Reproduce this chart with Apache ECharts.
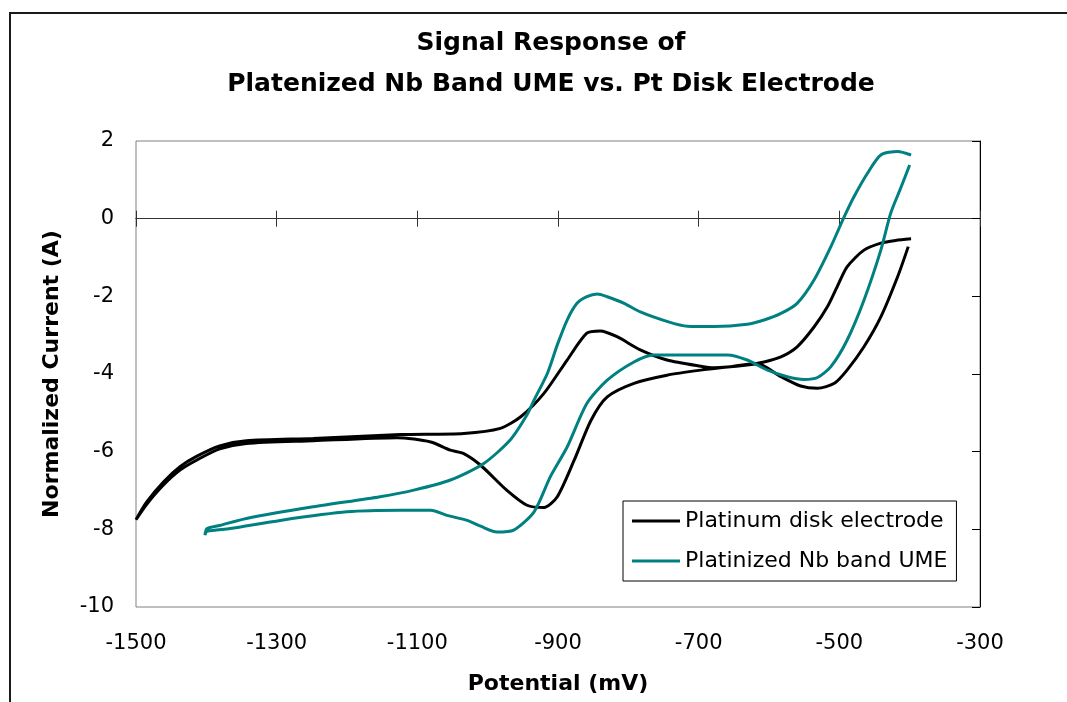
<!DOCTYPE html>
<html>
<head>
<meta charset="utf-8">
<title>Signal Response</title>
<script src="https://cdn.jsdelivr.net/npm/echarts@6/dist/echarts.min.js"></script>
<style>
  html, body { margin: 0; padding: 0; background: #fff; }
  #chart { width: 1067px; height: 702px; }
</style>
</head>
<body>
<div id="chart"></div>
<script>
// Platinum disk electrode, one full sweep (mV, normalized current)
const ptPotential = [
  -398, -420, -441, -465, -489, -503, -517, -536, -560, -583, -607, -631, -678, -697,
  -745, -783, -816, -840, -859, -887, -920, -953, -982, -1034, -1124, -1248, -1343,
  -1381, -1414, -1437, -1461, -1485, -1500,
  -1485, -1461, -1437, -1414, -1381, -1343, -1248, -1129, -1081, -1053, -1034, -1010,
  -973, -944, -920, -901, -877, -853, -830, -792, -745, -697, -650, -617, -583, -555,
  -531, -507, -489, -465, -441, -417, -402
];
const ptCurrent = [
  -0.52, -0.56, -0.63, -0.81, -1.24, -1.75, -2.27, -2.79, -3.30, -3.56, -3.69, -3.77, -3.84, -3.80,
  -3.64, -3.38, -3.04, -2.89, -2.95, -3.64, -4.50, -5.10, -5.40, -5.53, -5.56, -5.66, -5.72,
  -5.85, -6.12, -6.38, -6.78, -7.30, -7.75,
  -7.36, -6.86, -6.47, -6.22, -5.93, -5.79, -5.72, -5.64, -5.75, -5.96, -6.05, -6.35,
  -6.99, -7.38, -7.44, -7.16, -6.22, -5.19, -4.59, -4.24, -4.03, -3.90, -3.80, -3.73, -4.07, -4.31,
  -4.37, -4.24, -3.90, -3.30, -2.53, -1.49, -0.72
];

// Platinized Nb band UME
const nbPotential = [
  -398, -417, -441, -460, -479, -493, -512, -536, -560, -583, -607, -631, -678, -716,
  -744, -783, -806, -830, -844, -859, -873, -887, -901, -915, -934, -944, -968, -1006,
  -1053, -1105, -1153, -1248, -1343, -1381, -1399, -1402,
  -1399, -1366, -1295, -1200, -1124, -1081, -1058, -1029, -1010, -987, -963, -934,
  -911, -887, -859, -830, -792, -764, -697, -659, -631, -602, -574, -550, -531, -512,
  -489, -465, -441, -427, -412, -400
];
const nbCurrent = [
  1.64, 1.73, 1.64, 1.17, 0.57, 0.05, -0.72, -1.58, -2.18, -2.44, -2.61, -2.72, -2.78, -2.77,
  -2.65, -2.40, -2.18, -2.01, -1.94, -2.01, -2.18, -2.61, -3.25, -3.98, -4.67, -5.05, -5.70, -6.31,
  -6.73, -6.99, -7.16, -7.42, -7.72, -7.90, -7.98, -8.15,
  -8.05, -7.98, -7.77, -7.55, -7.51, -7.51, -7.64, -7.77, -7.92, -8.07, -8.02, -7.55,
  -6.65, -5.88, -4.76, -4.16, -3.69, -3.51, -3.51, -3.51, -3.64, -3.90, -4.07, -4.14, -4.09, -3.81,
  -3.13, -2.10, -0.81, 0.14, 0.82, 1.38
];

const xTicks = [-1500, -1300, -1100, -900, -700, -500, -300];
const seriesNames = ['Platinum disk electrode', 'Platinized Nb band UME'];

const FONT = 'DejaVu Sans';
const pair = (xs, ys) => xs.map((x, i) => [x, ys[i]]);

const chart = echarts.init(document.getElementById('chart'));

// two tick-only axes on the zero line so ticks cross it like in Excel
const tickAxis = (inside) => ({
  type: 'value',
  position: 'bottom',
  min: -1500,
  max: -300,
  axisLine: { show: true, onZero: true, lineStyle: { color: '#333', width: 1 } },
  axisTick: { show: true, inside: inside, length: 8, customValues: xTicks, lineStyle: { color: '#333' } },
  axisLabel: { show: false },
  splitLine: { show: false }
});

const option = {
  backgroundColor: '#fff',
  animation: false,
  title: {
    text: 'Signal Response of\nPlatenized Nb Band UME vs. Pt Disk Electrode',
    left: 546,
    top: 18,
    textAlign: 'center',
    textStyle: { fontFamily: FONT, fontSize: 25, fontWeight: 'bold', color: '#000', lineHeight: 41 }
  },
  graphic: [{
    type: 'rect',
    shape: { x: 10, y: 13, width: 1100, height: 760 },
    style: { fill: 'none', stroke: '#1a1a1a', lineWidth: 2 },
    silent: true
  }],
  grid: {
    left: 136, top: 141, width: 844, height: 466,
    show: true, borderColor: '#808080', borderWidth: 1, backgroundColor: '#fff'
  },
  legend: {
    data: seriesNames,
    orient: 'vertical',
    left: 623,
    top: 501,
    padding: [9, 9, 9, 9],
    itemGap: 18,
    itemWidth: 48,
    itemHeight: 3,
    icon: 'rect',
    borderColor: '#000',
    borderWidth: 1,
    backgroundColor: '#fff',
    textStyle: { fontFamily: FONT, fontSize: 22, color: '#000' }
  },
  xAxis: [
    {
      type: 'value',
      position: 'bottom',
      min: -1500,
      max: -300,
      name: 'Potential (mV)',
      nameLocation: 'middle',
      nameGap: 66,
      nameTextStyle: { fontFamily: FONT, fontSize: 22, fontWeight: 'bold', color: '#000' },
      axisLine: { show: false, onZero: false },
      axisTick: { show: false },
      axisLabel: {
        margin: 26, customValues: xTicks, fontFamily: FONT, fontSize: 21, color: '#000',
        formatter: (v) => String(v)
      },
      splitLine: { show: false }
    },
    tickAxis(false),
    tickAxis(true)
  ],
  yAxis: [
    {
      type: 'value',
      position: 'left',
      min: -10,
      max: 2,
      interval: 2,
      name: 'Normalized Current (A)',
      nameLocation: 'middle',
      nameGap: 73,
      nameTextStyle: { fontFamily: FONT, fontSize: 22, fontWeight: 'bold', color: '#000' },
      axisLine: { show: false, onZero: false },
      axisTick: { show: false },
      axisLabel: { margin: 22, fontFamily: FONT, fontSize: 21, color: '#000' },
      splitLine: { show: false }
    },
    {
      type: 'value',
      position: 'right',
      min: -10,
      max: 2,
      interval: 2,
      axisLine: { show: true, onZero: false, lineStyle: { color: '#000', width: 1 } },
      axisTick: { show: true, inside: true, length: 8, lineStyle: { color: '#000' } },
      axisLabel: { show: false },
      splitLine: { show: false }
    }
  ],
  series: [
    {
      name: seriesNames[0],
      type: 'line',
      xAxisIndex: 0,
      yAxisIndex: 0,
      data: pair(ptPotential, ptCurrent),
      symbol: 'none',
      smooth: 0.25,
      color: '#000000',
      lineStyle: { width: 3, color: '#000000' },
      z: 3
    },
    {
      name: seriesNames[1],
      type: 'line',
      xAxisIndex: 0,
      yAxisIndex: 0,
      data: pair(nbPotential, nbCurrent),
      symbol: 'none',
      smooth: 0.25,
      color: '#008080',
      lineStyle: { width: 3, color: '#008080' },
      z: 4
    }
  ]
};

chart.setOption(option);
</script>
</body>
</html>
